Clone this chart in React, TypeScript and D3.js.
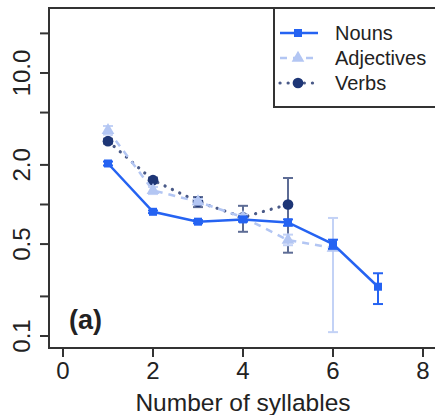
import React, { useRef, useEffect } from 'react';
import * as d3 from 'd3';

// syllable counts and mean values per word class (log scale)
const nounX = [1, 2, 3, 4, 5, 6, 7];
const nounMean = [2.05, 0.88, 0.74, 0.77, 0.73, 0.5, 0.237];
const nounLo = [1.98, 0.86, 0.72, 0.74, 0.69, 0.46, 0.175];
const nounHi = [2.12, 0.9, 0.76, 0.8, 0.77, 0.54, 0.3];

const adjX = [1, 2, 3, 4, 5, 6];
const adjMean = [3.67, 1.28, 1.05, 0.8, 0.536, 0.467];
const adjLo = [3.4, 1.2, 1.0, 0.76, 0.49, 0.107];
const adjHi = [3.95, 1.36, 1.1, 0.84, 0.59, 0.79];

const verbX = [1, 2, 3, 4, 5];
const verbMean = [3.03, 1.53, 1.05, 0.8, 1.0];
const verbLo = [2.9, 1.47, 0.955, 0.62, 0.43];
const verbHi = [3.16, 1.6, 1.14, 0.977, 1.59];

const xTicks = [0, 2, 4, 6, 8];
const yTicks = [0.1, 0.2, 0.5, 1, 2, 5, 10, 20];
const yLabels = ['0.1', '', '0.5', '', '2.0', '', '10.0', ''];

const legendNames = ['Nouns', 'Adjectives', 'Verbs'];

function App() {
  const chartRef = useRef(null);

  useEffect(() => {
    drawChart();
  }, []);

  const drawChart = () => {
    const svg = d3.select(chartRef.current);
    svg.selectAll('*').remove();

    const left = 49, right = 437, top = 8, bottom = 348;
    const font = 'Liberation Sans, Arial, Helvetica, sans-serif';
    const ink = '#222';

    const x = d3.scaleLinear().domain([-0.311, 8.311]).range([left, right]);
    const y = d3.scaleLog()
      .domain([Math.pow(10, -1.0912), Math.pow(10, 1.494)])
      .range([bottom, top]);

    const series = [
      { name: 'Nouns', xs: nounX, mean: nounMean, lo: nounLo, hi: nounHi,
        color: '#2563f2', err: '#2563f2', dash: null, cap: 'butt', shape: 'square' },
      { name: 'Adjectives', xs: adjX, mean: adjMean, lo: adjLo, hi: adjHi,
        color: '#b3c6f3', err: '#c3d2f6', dash: '7,6', cap: 'butt', shape: 'triangle' },
      { name: 'Verbs', xs: verbX, mean: verbMean, lo: verbLo, hi: verbHi,
        color: '#1e3676', err: '#5d6c95', dash: '0.1,8', cap: 'round', shape: 'circle' },
    ];

    const markerPath = (shape) => {
      if (shape === 'square') return d3.symbol(d3.symbolSquare, 64)();
      if (shape === 'triangle') return d3.symbol(d3.symbolTriangle, 70)();
      return d3.symbol(d3.symbolCircle, 90)();
    };

    // draw in reverse so nouns sit on top
    [...series].reverse().forEach(s => {
      const pts = s.xs.map((v, i) => ({ x: v, m: s.mean[i], lo: s.lo[i], hi: s.hi[i] }));

      const line = d3.line()
        .x(d => x(d.x))
        .y(d => y(d.m));

      svg.append('path')
        .datum(pts)
        .attr('fill', 'none')
        .attr('stroke', s.shape === 'circle' ? '#4a5a88' : s.color)
        .attr('stroke-width', s.shape === 'circle' ? 3.2 : 2.5)
        .attr('stroke-dasharray', s.dash)
        .attr('stroke-linecap', s.cap)
        .attr('d', line);

      const eb = svg.append('g')
        .attr('stroke', s.err)
        .attr('stroke-width', 2);
      pts.forEach(d => {
        eb.append('line')
          .attr('x1', x(d.x)).attr('x2', x(d.x))
          .attr('y1', y(d.lo)).attr('y2', y(d.hi));
        eb.append('line')
          .attr('x1', x(d.x) - 5).attr('x2', x(d.x) + 5)
          .attr('y1', y(d.lo)).attr('y2', y(d.lo));
        eb.append('line')
          .attr('x1', x(d.x) - 5).attr('x2', x(d.x) + 5)
          .attr('y1', y(d.hi)).attr('y2', y(d.hi));
      });

      svg.selectAll(null)
        .data(pts)
        .enter().append('path')
        .attr('d', markerPath(s.shape))
        .attr('transform', d => `translate(${x(d.x)},${y(d.m)})`)
        .attr('fill', s.color);
    });

    // plot box
    svg.append('rect')
      .attr('x', left)
      .attr('y', top)
      .attr('width', right - left)
      .attr('height', bottom - top)
      .attr('fill', 'none')
      .attr('stroke', '#333')
      .attr('stroke-width', 2);

    // x axis
    const xa = svg.append('g');
    xTicks.forEach(t => {
      xa.append('line')
        .attr('x1', x(t)).attr('x2', x(t))
        .attr('y1', bottom).attr('y2', bottom + 9)
        .attr('stroke', '#333').attr('stroke-width', 2);
      xa.append('text')
        .attr('x', x(t))
        .attr('y', 379)
        .attr('text-anchor', 'middle')
        .attr('font-family', font)
        .attr('font-size', 24)
        .attr('fill', ink)
        .text(t);
    });

    svg.append('text')
      .attr('x', 243)
      .attr('y', 411)
      .attr('text-anchor', 'middle')
      .attr('font-family', font)
      .attr('font-size', 24.5)
      .attr('fill', ink)
      .text('Number of syllables');

    // y axis
    const ya = svg.append('g');
    yTicks.forEach((t, i) => {
      ya.append('line')
        .attr('x1', left - 9).attr('x2', left)
        .attr('y1', y(t)).attr('y2', y(t))
        .attr('stroke', '#333').attr('stroke-width', 2);
      if (yLabels[i]) {
        ya.append('text')
          .attr('transform', `translate(30,${y(t)}) rotate(-90)`)
          .attr('text-anchor', 'middle')
          .attr('font-family', font)
          .attr('font-size', 24)
          .attr('fill', ink)
          .text(yLabels[i]);
      }
    });

    svg.append('text')
      .attr('x', 69)
      .attr('y', 329)
      .attr('font-family', font)
      .attr('font-size', 27)
      .attr('font-weight', 'bold')
      .attr('fill', ink)
      .text('(a)');

    // legend
    const legend = svg.append('g');
    legend.append('rect')
      .attr('x', 274)
      .attr('y', 8)
      .attr('width', 200)
      .attr('height', 99)
      .attr('fill', 'white')
      .attr('stroke', '#333')
      .attr('stroke-width', 2);

    series.forEach((s, i) => {
      const ly = 33 + i * 25;
      legend.append('line')
        .attr('x1', 280).attr('x2', 318)
        .attr('y1', ly).attr('y2', ly)
        .attr('stroke', s.shape === 'circle' ? '#4a5a88' : s.color)
        .attr('stroke-width', s.shape === 'circle' ? 3.2 : 2.5)
        .attr('stroke-dasharray', s.dash)
        .attr('stroke-linecap', s.cap);
      legend.append('path')
        .attr('d', markerPath(s.shape))
        .attr('transform', `translate(298,${ly})`)
        .attr('fill', s.color);
      legend.append('text')
        .attr('x', 335)
        .attr('y', ly + 7)
        .attr('font-family', font)
        .attr('font-size', 20)
        .attr('fill', ink)
        .text(legendNames[i]);
    });
  };

  return (
    <svg
      ref={chartRef}
      width={435}
      height={415}
      style={{ position: 'absolute', left: 0, top: 0, background: 'white' }}
    ></svg>
  );
}

export default App;
